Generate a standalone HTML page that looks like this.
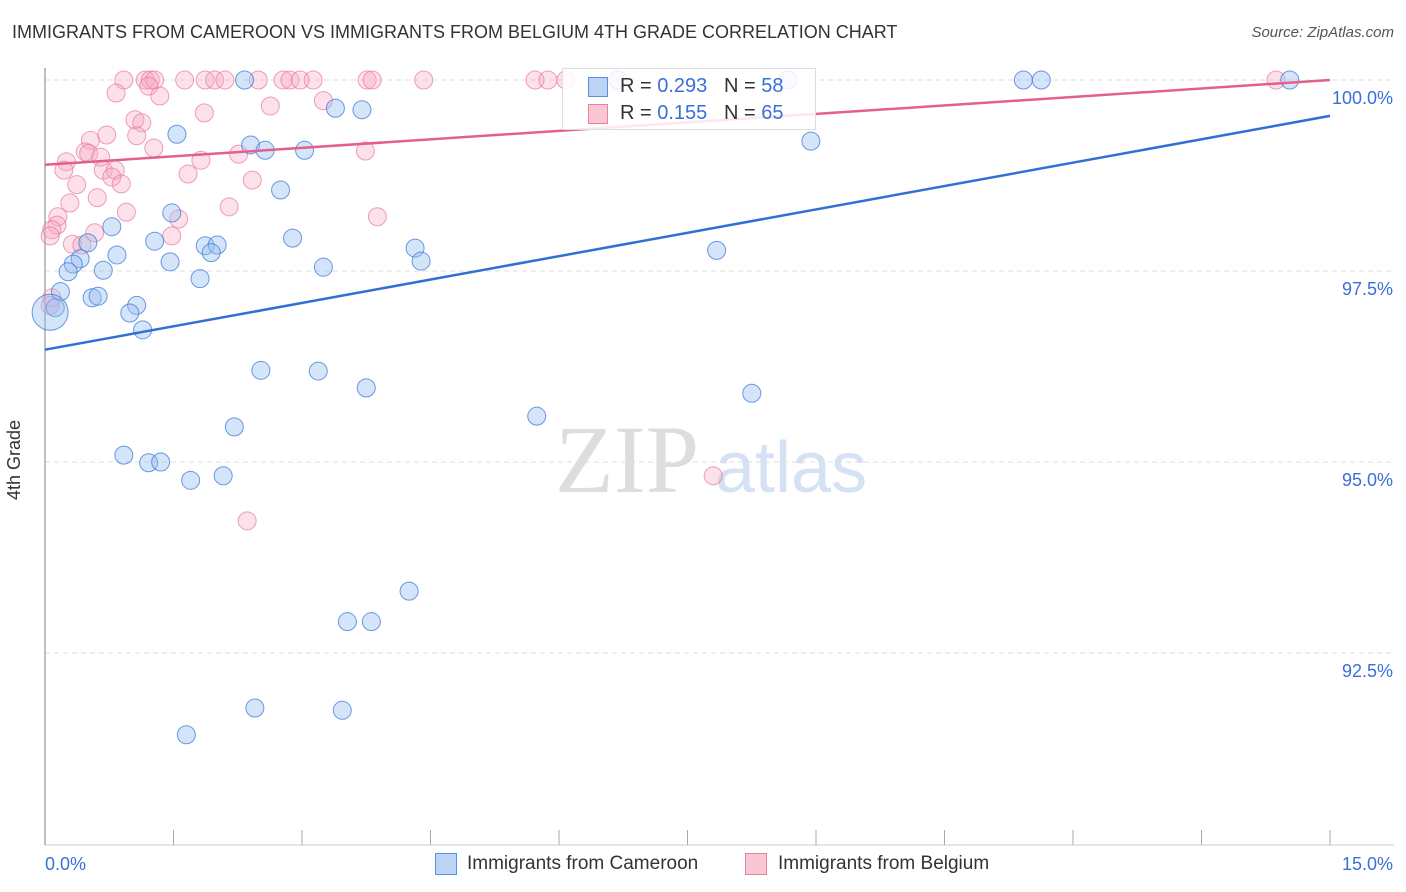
<!DOCTYPE html>
<html><head><meta charset="utf-8"><style>
body{margin:0;background:#fff;font-family:"Liberation Sans",sans-serif;}
#wrap{position:relative;width:1406px;height:892px;overflow:hidden}
.t{position:absolute;white-space:nowrap}
</style></head><body>
<div id="wrap">
<div class="t" style="left:12px;top:22px;font-size:18px;color:#333">IMMIGRANTS FROM CAMEROON VS IMMIGRANTS FROM BELGIUM 4TH GRADE CORRELATION CHART</div>
<div class="t" style="right:12px;top:24px;font-size:15px;color:#555;font-style:italic">Source: ZipAtlas.com</div>
<div class="t" style="left:4px;top:440px;font-size:18px;color:#333;transform:rotate(-90deg);transform-origin:left top;top:500px">4th Grade</div>
<svg id="chart" width="1406" height="892" style="position:absolute;left:0;top:0">
<text x="555" y="492" font-size="96" font-family="Liberation Serif" fill="#ddd">ZIP</text>
<text x="715" y="492" font-size="72" fill="#d4e2f3" font-family="Liberation Sans">atlas</text>
</svg>
<div style="position:absolute;left:562px;top:68px;width:252px;height:60px;border:1px solid #ddd;background:rgba(255,255,255,0.85)">
<div style="position:absolute;left:25px;top:8px;width:18px;height:18px;background:#bcd4f3;border:1px solid #5b8ee0"></div>
<div class="t" style="left:57px;top:6px;font-size:20px;color:#333">R = <span style="color:#3a6fd8">0.293</span> &nbsp; N = <span style="color:#3a6fd8">58</span></div>
<div style="position:absolute;left:25px;top:35px;width:18px;height:18px;background:#f9c6d4;border:1px solid #e8829f"></div>
<div class="t" style="left:57px;top:33px;font-size:20px;color:#333">R = <span style="color:#3a6fd8">0.155</span> &nbsp; N = <span style="color:#3a6fd8">65</span></div>
</div>
<div style="position:absolute;left:435px;top:852px;height:24px;font-size:19px;color:#333">
<span style="position:absolute;left:0;top:1px;width:20px;height:20px;background:#bcd4f3;border:1px solid #5b8ee0"></span>
<span class="t" style="left:32px;top:1px">Immigrants from Cameroon</span>
<span style="position:absolute;left:310px;top:1px;width:20px;height:20px;background:#f9c6d4;border:1px solid #e8829f"></span>
<span class="t" style="left:343px;top:1px">Immigrants from Belgium</span>
</div>
</div>
<script>
const yTicks=[100,97.5,95,92.5];
const yTickLabels=["100.0%","97.5%","95.0%","92.5%"];
const xTickLabels=["0.0%","15.0%"];
const blueX=[2.33,6.69,8.67,11.42,11.63,14.53,3.39,3.70,1.54,2.40,2.57,3.03,8.94,2.75,0.78,1.48,1.28,0.50,1.87,2.01,1.94,2.89,0.84,0.41,0.33,0.27,0.68,1.46,1.81,3.25,4.32,4.39,7.84,0.18,0.55,0.62,1.07,0.99,1.14,0.12,0.06,2.52,3.19,3.75,5.74,8.25,2.21,0.92,1.21,1.35,1.70,2.08,4.25,3.53,3.81,2.45,3.47,1.65];
const blueY=[100,100,100,100,100,100,99.63,99.61,99.29,99.15,99.08,99.08,99.20,98.56,98.08,98.26,97.89,97.87,97.83,97.84,97.74,97.93,97.71,97.66,97.59,97.49,97.51,97.62,97.40,97.55,97.80,97.63,97.77,97.23,97.15,97.17,97.05,96.95,96.73,97.02,96.96,96.20,96.19,95.97,95.60,95.90,95.46,95.09,94.99,95.00,94.76,94.82,93.31,92.91,92.91,91.78,91.75,91.43];
const pinkX=[0.92,1.17,1.23,1.28,1.63,1.87,1.98,2.10,2.49,2.78,2.86,2.98,3.13,3.76,3.82,4.42,5.72,5.87,6.08,14.37,1.21,0.83,1.34,3.25,1.86,2.63,1.05,1.13,0.53,0.72,1.07,0.47,0.51,0.65,1.27,0.25,0.22,2.26,1.82,3.74,0.68,0.82,0.78,0.89,0.37,1.67,0.61,0.29,0.95,2.15,2.42,3.88,0.15,0.14,0.08,0.06,0.32,0.43,0.58,1.56,1.48,7.80,2.36,0.08,0.06];
const pinkY=[100,100,100,100,100,100,100,100,100,100,100,100,100,100,100,100,100,100,100,100,99.92,99.83,99.79,99.73,99.57,99.66,99.48,99.44,99.21,99.28,99.27,99.06,99.04,98.99,99.11,98.93,98.82,99.03,98.95,99.07,98.82,98.82,98.73,98.64,98.63,98.77,98.46,98.39,98.27,98.34,98.69,98.21,98.21,98.10,98.04,97.96,97.85,97.84,98.00,98.18,97.96,94.82,94.23,97.15,97.05];
const blueTrend=[96.47,99.53];
const pinkTrend=[98.89,100];
const NS="http://www.w3.org/2000/svg";
const svg=document.getElementById('chart');
const X0=45,X1=1330;
function sx(v){return X0+(X1-X0)*v/15;}
function sy(v){return 80+(100-v)*76.4;}
function mk(tag,attrs){const e=document.createElementNS(NS,tag);for(const k in attrs)e.setAttribute(k,attrs[k]);svg.appendChild(e);return e;}
yTicks.forEach((t,i)=>{
  const g=mk('line',{x1:X0,x2:1394,y1:sy(t),y2:sy(t),stroke:'#ddd','stroke-dasharray':'5,4'});
  
  
  const l=mk('text',{x:1393,y:sy(t)+24,'text-anchor':'end','font-size':18,fill:'#3a6fd8'});
  l.textContent=yTickLabels[i];
  
  
});
const ax=mk('line',{x1:X0,x2:X0,y1:68,y2:845,stroke:'#aaa','stroke-width':1.5});


const bx=mk('line',{x1:X0,x2:1394,y1:845,y2:845,stroke:'#ccc'});


for(let i=0;i<=10;i++){
  const tk=mk('line',{x1:sx(i*1.5),x2:sx(i*1.5),y1:830,y2:845,stroke:'#aaa'});
  
  
}
[[0,'start',X0],[1,'end',1393]].forEach(([i,a,x])=>{
  const l=mk('text',{x:x,y:870,'text-anchor':a,'font-size':18,fill:'#3a6fd8'});
  l.textContent=xTickLabels[i];
  
  
});
function pts(xs,ys,fill,stroke,name){
  xs.forEach((x,i)=>{
    const big=(name==='cameroon-point'&&x<0.1&&ys[i]<97);
    const c=mk('circle',{cx:sx(x),cy:sy(ys[i]),r:big?18:9,fill:fill,stroke:stroke,'stroke-width':1});
    
    
  });
}
pts(pinkX,pinkY,'rgba(246,170,195,0.35)','rgba(232,120,155,0.7)','belgium-point');
pts(blueX,blueY,'rgba(150,190,240,0.4)','rgba(60,120,215,0.75)','cameroon-point');
const pl=mk('line',{x1:sx(0),y1:sy(pinkTrend[0]),x2:sx(15),y2:sy(pinkTrend[1]),stroke:'#e2608a','stroke-width':2.5});


const bl=mk('line',{x1:sx(0),y1:sy(blueTrend[0]),x2:sx(15),y2:sy(blueTrend[1]),stroke:'#2f6fd6','stroke-width':2.5});


</script>
</body></html>
